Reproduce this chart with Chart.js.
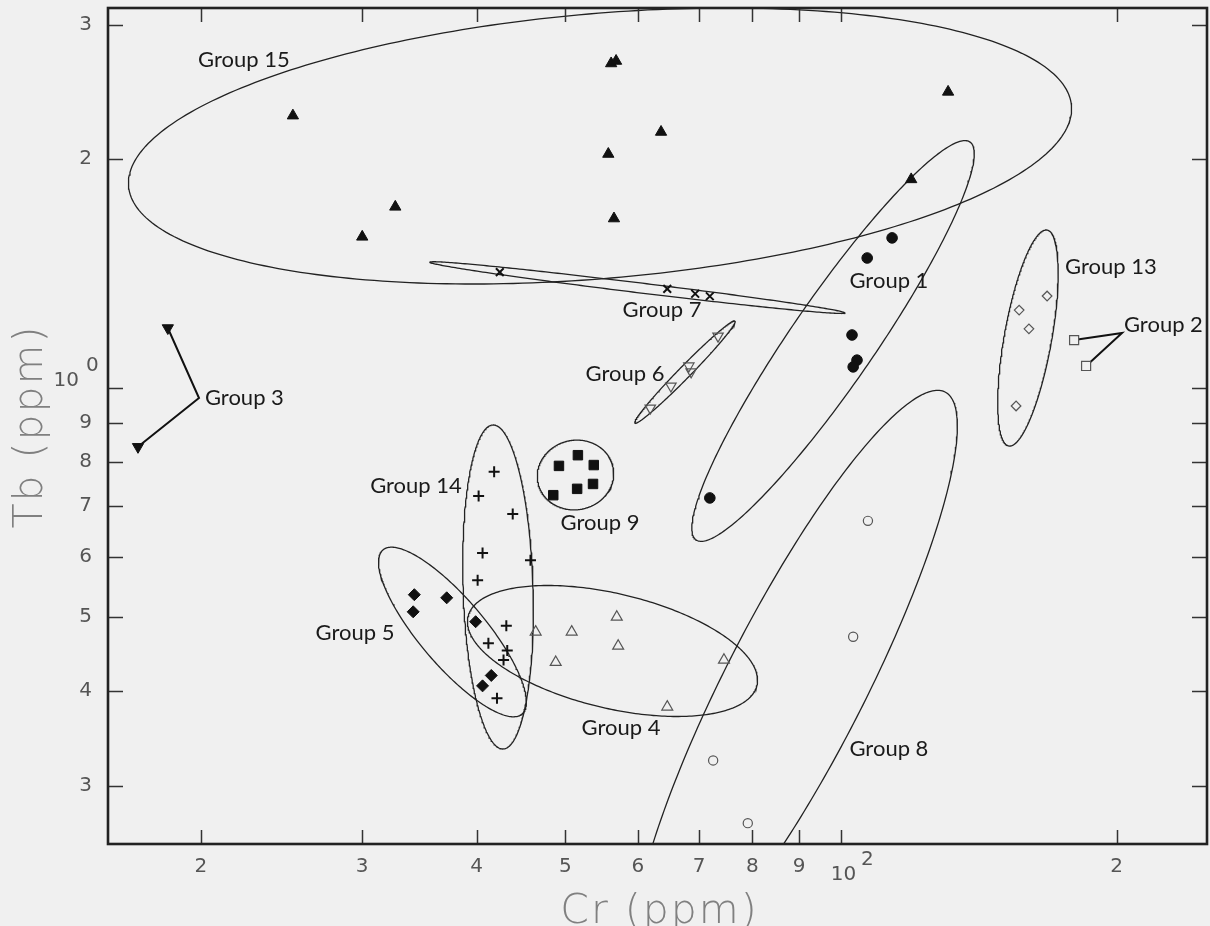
<!DOCTYPE html>
<html><head><meta charset="utf-8">
<script src="https://cdn.jsdelivr.net/npm/chart.js@4.4.1/dist/chart.umd.min.js"></script>
<style>html,body{margin:0;padding:0;background:#f0f0f0;}canvas{display:block;}</style>
</head><body>
<canvas id="c" width="1210" height="926" style="width:1210px;height:926px"></canvas>
<script>
// ---------- axes ----------
const xTickValues = [20, 30, 40, 50, 60, 70, 80, 90, 100, 200];
const xTickLabels = ['2', '3', '4', '5', '6', '7', '8', '9', '10^2', '2'];
const yTickValues = [3, 4, 5, 6, 7, 8, 9, 10, 20, 30];
const yTickLabels = ['3', '4', '5', '6', '7', '8', '9', '10^0', '2', '3'];
const xRange = [15.83, 251.0];
const yRange = [2.516, 31.58];
const xTitle = 'Cr (ppm)';
const yTitle = 'Tb (ppm)';

// ---------- samples (Cr, Tb) ----------
const g15Cr = [25.2, 32.6, 30.0, 56.1, 56.8, 63.6, 55.7, 56.5, 130.9, 119.3];
const g15Tb = [22.8, 17.3, 15.8, 26.7, 26.9, 21.7, 20.3, 16.7, 24.5, 18.8];
const g7Cr = [42.4, 64.6, 69.3, 71.9];
const g7Tb = [14.2, 13.5, 13.3, 13.2];
const g6Cr = [61.9, 65.2, 68.2, 68.6, 73.4];
const g6Tb = [9.41, 10.06, 10.69, 10.50, 11.70];
const g9Cr = [49.2, 51.6, 53.7, 53.6, 51.5, 48.5];
const g9Tb = [7.90, 8.16, 7.92, 7.48, 7.37, 7.23];
const g14Cr = [41.8, 40.2, 43.8, 40.6, 45.8, 40.1, 43.1, 41.2, 43.2, 42.8, 42.1];
const g14Tb = [7.76, 7.21, 6.83, 6.07, 5.94, 5.59, 4.87, 4.62, 4.52, 4.39, 3.91];
const g5Cr = [34.2, 34.1, 37.1, 39.9, 41.5, 40.6];
const g5Tb = [5.35, 5.08, 5.30, 4.93, 4.19, 4.06];
const g4Cr = [46.4, 50.8, 56.9, 57.1, 48.8, 74.5, 64.6];
const g4Tb = [4.78, 4.78, 5.00, 4.58, 4.36, 4.39, 3.81];
const g1Cr = [113.7, 106.8, 102.8, 104.1, 103.1, 71.9];
const g1Tb = [15.75, 14.82, 11.74, 10.88, 10.66, 7.17];
const g13Cr = [167.9, 156.5, 160.4, 155.3];
const g13Tb = [13.21, 12.66, 11.96, 9.47];
const g2Cr = [179.7, 185.2];
const g2Tb = [11.56, 10.69];
const g3Cr = [18.4, 17.07];
const g3Tb = [11.99, 8.37];
const g8Cr = [107.0, 103.1, 72.5, 79.1];
const g8Tb = [6.69, 4.71, 3.24, 2.68];

// leader-line junctions for Groups 2 and 3 (Cr, Tb)
const g2Junction = [202.7, 11.81];
const g3Junction = [19.9, 9.70];

// group ellipses: [centre, end of one semi-axis, end of conjugate semi-axis] as (Cr, Tb)
const g15Ellipse = [[54.55, 20.80], [178.5, 23.50], [56.12, 13.95]];
const g7Ellipse  = [[59.94, 13.55], [101.01, 12.548], [59.85, 13.35]];
const g6Ellipse  = [[67.55, 10.496], [76.60, 12.248], [68.28, 10.364]];
const g9Ellipse  = [[51.29, 7.685], [56.36, 7.873], [52.24, 6.934]];
const g14Ellipse = [[42.21, 5.476], [41.68, 8.941], [46.09, 5.492]];
const g5Ellipse  = [[37.64, 4.779], [44.83, 3.728], [40.10, 5.098]];
const g4Ellipse  = [[56.29, 4.512], [80.94, 4.065], [54.44, 3.812]];
const g1Ellipse  = [[98.01, 11.529], [138.3, 21.05], [106.9, 10.727]];
const g13Ellipse = [[160.0, 11.634], [167.9, 16.13], [169.7, 11.490]];
const g8Ellipse  = [[89.08, 4.070], [129.9, 9.880], [104.1, 3.699]];

// group labels
const labelTexts = ['Group 15', 'Group 7', 'Group 6', 'Group 9', 'Group 14', 'Group 5', 'Group 4', 'Group 1', 'Group 13', 'Group 2', 'Group 3', 'Group 8'];
const labelCr    = [22.28, 63.75, 58.09, 54.55, 34.34, 29.46, 57.51, 112.8, 175.65, 203.7, 20.20, 112.8];
const labelTb    = [26.99, 12.66, 10.43, 6.646, 7.434, 4.764, 3.574, 13.82, 14.42, 12.10, 9.70, 3.354];
const labelAlign = ['center', 'center', 'center', 'center', 'center', 'center', 'center', 'center', 'left', 'left', 'left', 'center'];

// ---------- helpers ----------
const pts = (cr, tb) => cr.map((v, i) => ({x: v, y: tb[i]}));
function ellipsePts(e) {
  const L = Math.log10;
  const cx = L(e[0][0]), cy = L(e[0][1]);
  const ux = L(e[1][0]) - cx, uy = L(e[1][1]) - cy;
  const vx = L(e[2][0]) - cx, vy = L(e[2][1]) - cy;
  const out = [];
  const n = 300;
  for (let i = 0; i <= n; i++) {
    const t = i / n * 2 * Math.PI;
    out.push({x: Math.pow(10, cx + ux * Math.cos(t) + vx * Math.sin(t)),
              y: Math.pow(10, cy + uy * Math.cos(t) + vy * Math.sin(t))});
  }
  return out;
}
const BLACK = '#111';
const GREY = '#555';
const BG = '#f0f0f0';
function marker(cr, tb, style, r, fill, stroke, bw, rot) {
  return {data: pts(cr, tb), pointStyle: style, pointRadius: r, pointHoverRadius: r,
    pointBackgroundColor: fill, pointBorderColor: stroke, pointBorderWidth: bw,
    pointRotation: rot || 0, showLine: false, order: 0};
}
function ell(e) {
  return {data: ellipsePts(e), showLine: true, pointRadius: 0, pointHoverRadius: 0,
    borderColor: '#222', borderWidth: 1.3, tension: 0, fill: false, clip: 0, order: 3};
}
function leader(cr, tb, j) {
  return {data: [{x: cr[0], y: tb[0]}, {x: j[0], y: j[1]}, {x: cr[1], y: tb[1]}],
    showLine: true, pointRadius: 0, borderColor: '#111', borderWidth: 2, tension: 0, order: 2};
}

const datasets = [
  ell(g15Ellipse), ell(g7Ellipse), ell(g6Ellipse), ell(g9Ellipse), ell(g14Ellipse),
  ell(g5Ellipse), ell(g4Ellipse), ell(g1Ellipse), ell(g13Ellipse), ell(g8Ellipse),
  leader(g2Cr, g2Tb, g2Junction), leader(g3Cr, g3Tb, g3Junction),
  marker(g15Cr, g15Tb, 'triangle', 6.5, BLACK, BLACK, 1),
  marker(g7Cr, g7Tb, 'crossRot', 5.5, BLACK, BLACK, 2),
  marker(g6Cr, g6Tb, 'triangle', 6, 'rgba(0,0,0,0)', GREY, 1.2, 180),
  marker(g9Cr, g9Tb, 'rect', 6.7, BLACK, BLACK, 1),
  marker(g14Cr, g14Tb, 'cross', 5.5, BLACK, BLACK, 2),
  marker(g5Cr, g5Tb, 'rectRot', 6, BLACK, BLACK, 1),
  marker(g4Cr, g4Tb, 'triangle', 6.3, 'rgba(0,0,0,0)', GREY, 1.2),
  marker(g1Cr, g1Tb, 'circle', 5.3, BLACK, BLACK, 1),
  marker(g13Cr, g13Tb, 'rectRot', 4.8, BG, GREY, 1.2),
  marker(g2Cr, g2Tb, 'rect', 6.4, BG, GREY, 1.2),
  marker(g3Cr, g3Tb, 'triangle', 6.5, BLACK, BLACK, 1, 180),
  marker(g8Cr, g8Tb, 'circle', 4.6, BG, GREY, 1.2),
  marker(g13Cr, g13Tb, 'circle', 1, GREY, GREY, 0),
  marker(g2Cr, g2Tb, 'circle', 1, GREY, GREY, 0),
  marker(g8Cr, g8Tb, 'circle', 1, GREY, GREY, 0)
];

const tickText = (vals, labs) => (v) => {
  const k = vals.findIndex(t => Math.abs(t - v) < 1e-9);
  if (k < 0) return '';
  return labs[k].includes('^') ? '' : labs[k];
};
const TICK_FONT = '"DejaVu Sans", sans-serif';
const TICK_SIZE = 20;
const TICK_COLOR = '#555';

const decorPlugin = {
  id: 'decor',
  beforeDraw(chart) {
    const ctx = chart.ctx;
    ctx.save(); ctx.fillStyle = BG; ctx.fillRect(0, 0, chart.width, chart.height); ctx.restore();
  },
  afterDatasetsDraw(chart) {
    const ctx = chart.ctx, xs = chart.scales.x, ys = chart.scales.y;
    ctx.save();
    ctx.font = '22px Lato, "Open Sans", sans-serif';
    ctx.fillStyle = '#1a1a1a';
    ctx.textBaseline = 'middle';
    labelTexts.forEach((t, i) => {
      ctx.textAlign = labelAlign[i];
      ctx.fillText(t, xs.getPixelForValue(labelCr[i]), ys.getPixelForValue(labelTb[i]));
    });
    ctx.restore();
  },
  afterDraw(chart) {
    const ctx = chart.ctx, a = chart.chartArea, xs = chart.scales.x, ys = chart.scales.y;
    ctx.save();
    // tick marks (inward, all four sides)
    ctx.strokeStyle = '#333'; ctx.lineWidth = 1.5;
    ctx.beginPath();
    xTickValues.forEach(v => {
      const px = Math.round(xs.getPixelForValue(v)) + 0.5;
      ctx.moveTo(px, a.bottom); ctx.lineTo(px, a.bottom - 14);
      ctx.moveTo(px, a.top); ctx.lineTo(px, a.top + 14);
    });
    yTickValues.forEach(v => {
      const py = Math.round(ys.getPixelForValue(v)) + 0.5;
      ctx.moveTo(a.left, py); ctx.lineTo(a.left + 15, py);
      ctx.moveTo(a.right, py); ctx.lineTo(a.right - 15, py);
    });
    ctx.stroke();
    // frame
    ctx.strokeStyle = '#222'; ctx.lineWidth = 2.6;
    ctx.strokeRect(a.left, a.top, a.right - a.left, a.bottom - a.top);
    // power-of-ten tick labels
    ctx.fillStyle = TICK_COLOR;
    ctx.font = TICK_SIZE + 'px ' + TICK_FONT;
    ctx.textBaseline = 'middle';
    xTickLabels.forEach((s, i) => {
      if (!s.includes('^')) return;
      const [b, e] = s.split('^');
      const px = xs.getPixelForValue(xTickValues[i]);
      ctx.textAlign = 'center'; ctx.fillText(b, px + 2.5, a.bottom + 31);
      ctx.textAlign = 'left'; ctx.fillText(e, px + 20, a.bottom + 16);
    });
    yTickLabels.forEach((s, i) => {
      if (!s.includes('^')) return;
      const [b, e] = s.split('^');
      const py = ys.getPixelForValue(yTickValues[i]);
      ctx.textAlign = 'right'; ctx.fillText(b, a.left - 29, py - 7);
      ctx.textAlign = 'left'; ctx.fillText(e, a.left - 22, py - 22);
    });
    // axis titles
    ctx.fillStyle = '#808080';
    ctx.font = '200 41px "DejaVu Sans", sans-serif';
    ctx.letterSpacing = '2px';
    ctx.textBaseline = 'alphabetic';
    ctx.textAlign = 'center';
    ctx.fillText(xTitle, (a.left + a.right) / 2 + 2, 923);
    ctx.translate(42, (a.top + a.bottom) / 2 + 0.5);
    ctx.rotate(-Math.PI / 2);
    ctx.fillText(yTitle, 0, 0);
    ctx.restore();
  }
};

const zeroPad = s => { s.paddingTop = 0; s.paddingBottom = 0; s.paddingLeft = 0; s.paddingRight = 0; };

new Chart(document.getElementById('c'), {
  type: 'scatter',
  data: {datasets},
  options: {
    responsive: false,
    animation: false,
    events: [],
    layout: {autoPadding: false, padding: {left: 0, right: 3, top: 8, bottom: 0}},
    plugins: {legend: {display: false}, tooltip: {enabled: false}},
    scales: {
      x: {
        type: 'logarithmic', position: 'bottom', min: xRange[0], max: xRange[1], offset: false,
        grid: {display: false}, border: {display: false},
        afterBuildTicks: s => { s.ticks = xTickValues.map(v => ({value: v})); },
        afterFit: s => { s.height = 82; zeroPad(s); },
        ticks: {autoSkip: false, maxRotation: 0, padding: 3, color: TICK_COLOR,
          font: {family: TICK_FONT, size: TICK_SIZE},
          callback: tickText(xTickValues, xTickLabels)}
      },
      y: {
        type: 'logarithmic', position: 'left', min: yRange[0], max: yRange[1], offset: false,
        grid: {display: false}, border: {display: false},
        afterBuildTicks: s => { s.ticks = yTickValues.map(v => ({value: v})); },
        afterFit: s => { s.width = 108; zeroPad(s); },
        ticks: {autoSkip: false, padding: 8, color: TICK_COLOR,
          font: {family: TICK_FONT, size: TICK_SIZE},
          callback: tickText(yTickValues, yTickLabels)}
      }
    }
  },
  plugins: [decorPlugin]
});
</script>
</body></html>
